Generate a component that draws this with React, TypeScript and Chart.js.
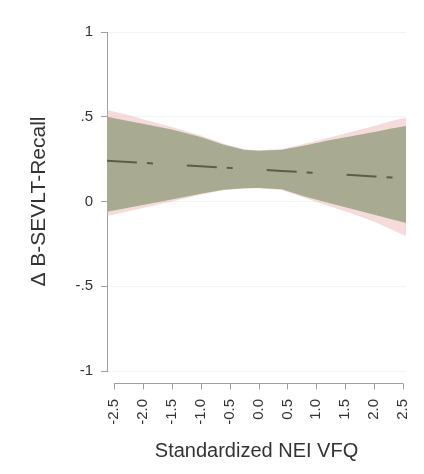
import React, { useEffect, useRef } from "react";
import { Chart, registerables } from "chart.js";

Chart.register(...registerables);

// Grid of x positions (Standardized NEI VFQ) where the band edges are read
const xs = [-2.62, -2.25, -2.0, -1.5, -1.0, -0.6, -0.25, 0.0, 0.4, 0.8, 1.2, 1.6, 2.0, 2.3, 2.55];
// Fitted line
const fitLine = [0.24, 0.233, 0.228, 0.218, 0.208, 0.2, 0.193, 0.188, 0.18, 0.172, 0.164, 0.156, 0.148, 0.142, 0.137];
// Green confidence band
const greenUpper = [0.5, 0.475, 0.458, 0.425, 0.38, 0.335, 0.305, 0.3, 0.305, 0.33, 0.36, 0.385, 0.41, 0.43, 0.445];
const greenLower = [-0.06, -0.037, -0.02, 0.012, 0.045, 0.07, 0.078, 0.08, 0.072, 0.03, -0.008, -0.043, -0.078, -0.105, -0.127];
// Pink confidence band (slightly wider at the ends)
const pinkUpper = [0.54, 0.51, 0.485, 0.44, 0.39, 0.34, 0.308, 0.302, 0.308, 0.34, 0.375, 0.41, 0.445, 0.475, 0.495];
const pinkLower = [-0.085, -0.058, -0.038, 0.0, 0.04, 0.068, 0.077, 0.079, 0.068, 0.02, -0.025, -0.07, -0.12, -0.165, -0.205];

const xTicks = [-2.5, -2.0, -1.5, -1.0, -0.5, 0.0, 0.5, 1.0, 1.5, 2.0, 2.5];
const yTicks = [-1, -0.5, 0, 0.5, 1];
const yTickLabels = ["-1", "-.5", "0", ".5", "1"];

const xTitle = "Standardized NEI VFQ";
const yTitle = "Δ B-SEVLT-Recall";

const pts = (ys: number[]) => xs.map((x, i) => ({ x, y: ys[i] }));

const FONT = "Liberation Sans, Arial, sans-serif";

const stataXAxis = {
  id: "stataXAxis",
  afterDraw(chart: any) {
    const { ctx, chartArea, scales } = chart;
    const x = scales.x;
    const y0 = Math.round(chartArea.bottom + 12) + 0.5;
    const xa = x.getPixelForValue(xTicks[0]);
    const xb = x.getPixelForValue(xTicks[xTicks.length - 1]);
    ctx.save();
    ctx.strokeStyle = "#a0a0a0";
    ctx.lineWidth = 1;
    ctx.beginPath();
    ctx.moveTo(xa, y0);
    ctx.lineTo(xb, y0);
    for (const t of xTicks) {
      const px = Math.round(x.getPixelForValue(t)) + 0.5;
      ctx.moveTo(px, y0);
      ctx.lineTo(px, y0 + 6);
    }
    ctx.stroke();
    ctx.restore();
  },
};

export default function App() {
  const ref = useRef<HTMLCanvasElement | null>(null);

  useEffect(() => {
    if (!ref.current) return;
    const chart = new Chart(ref.current, {
      type: "line",
      data: {
        datasets: [
          {
            label: "fit",
            data: pts(fitLine),
            borderColor: "#5a5e46",
            borderWidth: 2,
            borderDash: [30, 10, 6, 34],
            pointRadius: 0,
            fill: false,
          },
          {
            label: "green upper",
            data: pts(greenUpper),
            borderWidth: 0,
            borderColor: "rgba(0,0,0,0)",
            pointRadius: 0,
            backgroundColor: "rgb(168,171,146)",
            fill: "+1",
          },
          {
            label: "green lower",
            data: pts(greenLower),
            borderWidth: 0,
            borderColor: "rgba(0,0,0,0)",
            pointRadius: 0,
            fill: false,
          },
          {
            label: "pink upper",
            data: pts(pinkUpper),
            borderWidth: 0,
            borderColor: "rgba(0,0,0,0)",
            pointRadius: 0,
            backgroundColor: "rgba(232,172,166,0.42)",
            fill: "+1",
          },
          {
            label: "pink lower",
            data: pts(pinkLower),
            borderWidth: 0,
            borderColor: "rgba(0,0,0,0)",
            pointRadius: 0,
            fill: false,
          },
        ],
      },
      options: {
        responsive: false,
        animation: false,
        layout: { padding: { left: 0, right: 18, top: 32, bottom: 0 } },
        plugins: {
          legend: { display: false },
          tooltip: { enabled: false },
        },
        scales: {
          x: {
            type: "linear",
            min: -2.62,
            max: 2.55,
            afterBuildTicks: (s: any) => {
              s.ticks = xTicks.map((v) => ({ value: v }));
            },
            afterFit: (s: any) => {
              s.height = 103;
              s.paddingLeft = 0;
              s.paddingRight = 0;
            },
            grid: { display: false, drawTicks: false },
            border: { display: false },
            ticks: {
              autoSkip: false,
              minRotation: 90,
              maxRotation: 90,
              padding: 28,
              color: "#333",
              font: { family: FONT, size: 15 },
              callback: (v: any) => Number(v).toFixed(1),
            },
            title: {
              display: true,
              text: xTitle,
              color: "#333",
              font: { family: FONT, size: 20 },
              padding: { top: 0, bottom: 11 },
            },
          },
          y: {
            type: "linear",
            min: -1,
            max: 1,
            afterBuildTicks: (s: any) => {
              s.ticks = yTicks.map((v) => ({ value: v }));
            },
            afterFit: (s: any) => {
              s.width = 107;
              s.paddingTop = 0;
              s.paddingBottom = 0;
            },
            grid: {
              color: "rgba(0,0,0,0.045)",
              tickColor: "#a0a0a0",
              tickLength: 6,
              drawOnChartArea: true,
            },
            border: { display: true, color: "#a0a0a0", width: 1 },
            ticks: {
              padding: 8,
              color: "#333",
              font: { family: FONT, size: 15 },
              callback: (v: any) => {
                const i = yTicks.indexOf(Number(v));
                return i >= 0 ? yTickLabels[i] : "";
              },
            },
            title: {
              display: true,
              text: yTitle,
              color: "#333",
              font: { family: FONT, size: 21 },
              padding: { top: 27, bottom: 0 },
            },
          },
        },
      },
      plugins: [stataXAxis],
    });
    return () => chart.destroy();
  }, []);

  return (
    <div style={{ position: "absolute", left: 0, top: 0, width: 424, height: 474, background: "#fff" }}>
      <canvas ref={ref} width={424} height={474} />
    </div>
  );
}
